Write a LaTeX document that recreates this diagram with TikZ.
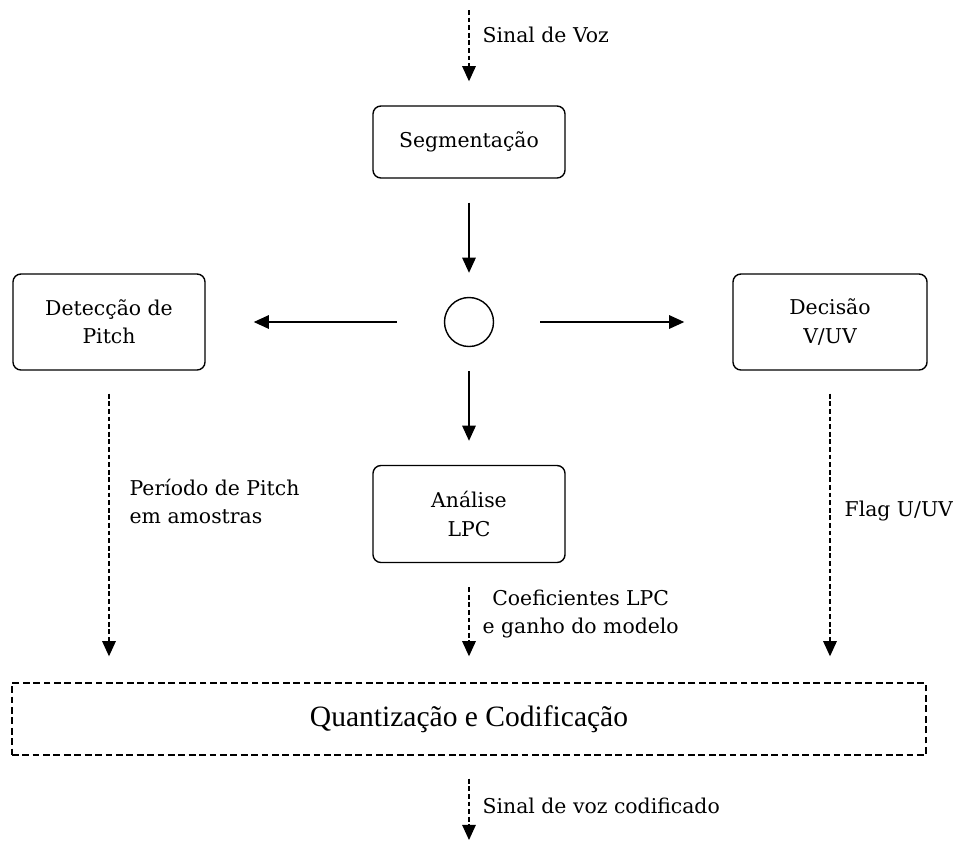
\documentclass[tikz,border=0pt]{standalone}
\usepackage{fontspec}
\setmainfont{DejaVu Serif}
\newfontfamily\quantfont{Liberation Serif}
\usetikzlibrary{arrows.meta}

\tikzset{
    every node/.style={font=\fontsize{14.5}{20}\selectfont},
    blk/.style={draw,rounded corners=0.2cm,line width=1pt,align=center,
                minimum width=4.8cm,minimum height=2.4cm},
    flow/.style={-{Triangle[length=0.38cm,width=0.34cm]},line width=0.9pt},
    sig/.style={flow,dash pattern=on 0.12cm off 0.07cm},
    lbl/.style={anchor=west,inner sep=0pt}
}

\begin{document}
\begin{tikzpicture}[x=0.025cm,y=-0.025cm]
    \useasboundingbox (0,0) rectangle (959,850);

    \coordinate (in)  at (469,10);
    \coordinate (out) at (469,840);

    \node[blk,minimum height=1.8cm] (seg) at (469,142) {Segmenta\c{c}\~ao};
    \node[draw,circle,line width=1pt,inner sep=0pt,minimum size=1.225cm] (hub) at (469,322) {};
    \node[blk] (det) at (109,322) {Detec\c{c}\~ao de\\Pitch};
    \node[blk,minimum width=4.85cm] (dec) at (830,322) {Decis\~ao\\V/UV};
    \node[blk,minimum height=2.425cm] (ana) at (469,514) {An\'alise\\LPC};
    \node[draw,line width=1pt,dash pattern=on 0.17cm off 0.09cm,
          minimum width=22.85cm,minimum height=1.8cm,
          font=\quantfont\fontsize{21}{24}\selectfont] (quant) at (469,719)
          {Quantiza\c{c}\~ao e Codifica\c{c}\~ao};

    \draw[sig,shorten >=0.6cm] (in) -- (seg)
        node[lbl,pos=0.26,xshift=0.325cm] {Sinal de Voz};
    \draw[flow,shorten <=0.6cm,shorten >=0.6cm] (seg) -- (hub);
    \draw[flow,shorten <=1.175cm,shorten >=1.2cm] (hub) -- (det);
    \draw[flow,shorten <=1.15cm,shorten >=1.2cm] (hub) -- (dec);
    \draw[flow,shorten <=0.6cm,shorten >=0.6cm] (hub) -- (ana);

    \draw[sig,shorten <=0.575cm,shorten >=0.65cm] (det) -- (det |- quant.north)
        node[lbl,align=left,pos=0.42,xshift=0.5cm] {Per\'iodo de Pitch\\em amostras};
    \draw[sig,shorten <=0.6cm,shorten >=0.65cm] (ana) -- (quant)
        node[lbl,align=center,pos=0.425,xshift=0.325cm] {Coeficientes LPC\\e ganho do modelo};
    \draw[sig,shorten <=0.575cm,shorten >=0.65cm] (dec) -- (dec |- quant.north)
        node[lbl,pos=0.45,xshift=0.35cm] {Flag U/UV};
    \draw[sig,shorten <=0.575cm] (quant) -- (out)
        node[lbl,pos=0.59,xshift=0.325cm] {Sinal de voz codificado};
\end{tikzpicture}
\end{document}
